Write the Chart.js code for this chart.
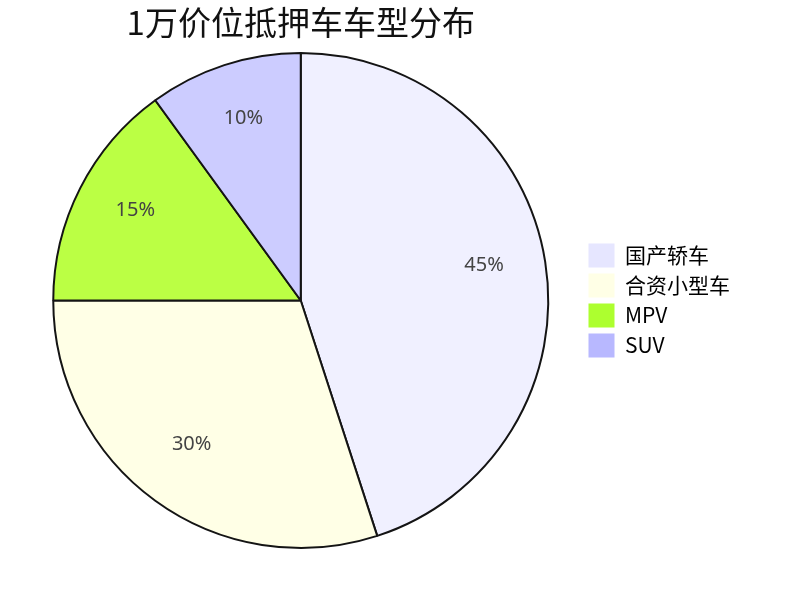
<!DOCTYPE html>
<html>
<head>
<meta charset="utf-8">
<script src="https://cdn.jsdelivr.net/npm/chart.js@4/dist/chart.umd.min.js"></script>
<style>
  html, body { margin: 0; padding: 0; background: #fff; }
  #wrap { width: 800px; height: 602px; }
</style>
</head>
<body>
<div id="wrap"><canvas id="c" width="800" height="602"></canvas></div>
<script>
const categories = ['国产轿车', '合资小型车', 'MPV', 'SUV'];
const shares = [45, 30, 15, 10];
const sliceColors = ['#f0f0ff', '#ffffe6', '#bbff44', '#ccccff'];
const legendColors = ['#e6e6ff', '#ffffe6', '#adff2f', '#b8b8ff'];
const titleText = '1万价位抵押车车型分布';
const FONT = '"Noto Sans CJK SC", "Noto Sans", sans-serif';
const LABEL_FONT = '"Noto Sans", "Noto Sans CJK SC", sans-serif';

// Percentage labels placed inside each slice
const sliceLabels = {
  id: 'sliceLabels',
  afterDatasetsDraw(chart) {
    const ctx = chart.ctx;
    const meta = chart.getDatasetMeta(0);
    ctx.save();
    ctx.font = '20px ' + LABEL_FONT;
    ctx.fillStyle = '#444';
    ctx.textAlign = 'center';
    ctx.textBaseline = 'middle';
    meta.data.forEach((arc, i) => {
      const mid = (arc.startAngle + arc.endAngle) / 2;
      const r = arc.outerRadius * 0.75;
      ctx.fillText(shares[i] + '%', arc.x + Math.cos(mid) * r, arc.y + Math.sin(mid) * r - 6);
    });
    ctx.restore();
  }
};

new Chart(document.getElementById('c'), {
  type: 'pie',
  data: {
    labels: categories,
    datasets: [{
      data: shares,
      backgroundColor: sliceColors,
      borderColor: '#141414',
      borderWidth: 2
    }]
  },
  options: {
    responsive: false,
    animation: false,
    rotation: 0,
    layout: { padding: { left: 19, right: 60, top: 3, bottom: 53 } },
    plugins: {
      title: {
        display: true,
        text: titleText,
        fullSize: false,
        color: '#111',
        font: { family: FONT, size: 33, weight: 'normal' },
        padding: { top: 0, bottom: 9.4 }
      },
      legend: {
        position: 'right',
        fullSize: false,
        labels: {
          boxWidth: 26,
          boxHeight: 24,
          padding: 6,
          color: '#111',
          font: { family: FONT, size: 21 },
          generateLabels(chart) {
            return categories.map((c, i) => ({
              text: c,
              fillStyle: legendColors[i],
              strokeStyle: legendColors[i],
              lineWidth: 0,
              index: i,
              datasetIndex: 0,
              hidden: false
            }));
          }
        }
      },
      tooltip: { enabled: false }
    }
  },
  plugins: [sliceLabels]
});
</script>
</body>
</html>
